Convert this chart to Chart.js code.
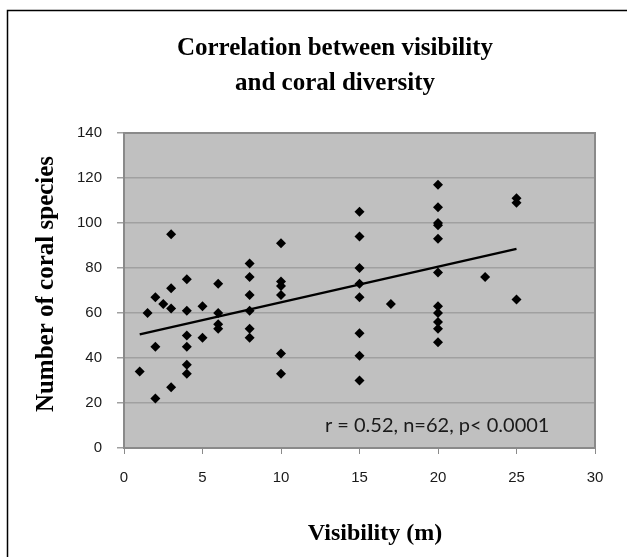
<!DOCTYPE html>
<html>
<head>
<meta charset="utf-8">
<script src="https://cdn.jsdelivr.net/npm/chart.js"></script>
<style>
    body { margin: 0; background: #ffffff; }
    #grafico { display: block; }
</style>
</head>
<body>
<canvas id="grafico" width="627" height="557"></canvas>
<script>
// dados (visibilidade em m x numero de especies)
var visibilidade = [
    1, 1.5,
    2, 2, 2, 2.5,
    3, 3, 3, 3,
    4, 4, 4, 4, 4, 4,
    5, 5,
    6, 6, 6, 6,
    8, 8, 8, 8, 8, 8,
    10, 10, 10, 10, 10, 10,
    15, 15, 15, 15, 15, 15, 15, 15,
    17,
    20, 20, 20, 20, 20, 20, 20, 20, 20, 20, 20,
    23,
    25, 25, 25
];
var especies = [
    34, 60,
    67, 45, 22, 64,
    95, 71, 62, 27,
    75, 61, 50, 45, 37, 33,
    63, 49,
    73, 60, 55, 53,
    82, 76, 68, 61, 53, 49,
    91, 74, 72, 68, 42, 33,
    105, 94, 80, 73, 67, 51, 41, 30,
    64,
    117, 107, 100, 99, 93, 78, 63, 60, 56, 53, 47,
    76,
    111, 109, 66
];

// linha de tendencia (pontas)
var tendenciaX = [1, 25];
var tendenciaY = [50.5, 88.5];

var ticksX = [0, 5, 10, 15, 20, 25, 30];
var ticksY = [0, 20, 40, 60, 80, 100, 120, 140];

var tituloLinhas = ['Correlation between visibility', 'and coral diversity'];
var tituloX = 'Visibility (m)';
var tituloY = 'Number of coral species';
var textoEstatistica = 'r = 0.52, n=62, p< 0.0001';
var posTexto = [27.1, 10];

function montarPontos(xs, ys) {
    var pts = [];
    for (let i = 0; i < xs.length; i++) {
        pts.push({ x: xs[i], y: ys[i] });
    }
    return pts;
}

// fundo cinza da area do grafico + bordas
const fundoPlot = {
    id: 'fundoPlot',
    beforeDraw: function (chart) {
        const ctx = chart.ctx;
        const a = chart.chartArea;
        ctx.save();
        ctx.fillStyle = '#c0c0c0';
        ctx.fillRect(a.left, a.top, a.right - a.left, a.bottom - a.top);
        ctx.restore();
    },
    afterDatasetsDraw: function (chart) {
        const ctx = chart.ctx;
        const a = chart.chartArea;
        ctx.save();
        ctx.strokeStyle = '#8a8a8a';
        ctx.lineWidth = 2;
        ctx.beginPath();
        ctx.moveTo(a.left, a.top);
        ctx.lineTo(a.right, a.top);
        ctx.lineTo(a.right, a.bottom);
        ctx.stroke();

        // texto da estatistica
        const sx = chart.scales.x;
        const sy = chart.scales.y;
        ctx.fillStyle = '#1a1a1a';
        ctx.font = '20px Lato';
        ctx.textAlign = 'right';
        ctx.textBaseline = 'middle';
        ctx.fillText(textoEstatistica, sx.getPixelForValue(posTexto[0]), sy.getPixelForValue(posTexto[1]));
        ctx.restore();
    }
};

// titulos (o original nao fica centrado na area do grafico)
const textosGrafico = {
    id: 'textosGrafico',
    afterDraw: function (chart) {
        const ctx = chart.ctx;
        ctx.save();
        ctx.fillStyle = '#000000';
        ctx.textAlign = 'center';
        ctx.textBaseline = 'alphabetic';

        ctx.font = 'bold 25px "Liberation Serif"';
        ctx.fillText(tituloLinhas[0], 335, 55);
        ctx.fillText(tituloLinhas[1], 335, 90);

        ctx.font = 'bold 24px "Liberation Serif"';
        ctx.fillText(tituloX, 375, 540);

        ctx.translate(53, 284);
        ctx.rotate(-Math.PI / 2);
        ctx.font = 'bold 25px "Liberation Serif"';
        ctx.fillText(tituloY, 0, 0);
        ctx.restore();

        // moldura externa (so topo e esquerda aparecem)
        ctx.save();
        ctx.strokeStyle = '#000000';
        ctx.lineWidth = 1.5;
        ctx.beginPath();
        ctx.moveTo(7.5, chart.height);
        ctx.lineTo(7.5, 10.5);
        ctx.lineTo(chart.width, 10.5);
        ctx.stroke();
        ctx.restore();
    }
};

const ctx = document.getElementById('grafico');

let grafico = new Chart(ctx, {
    type: 'scatter',
    data: {
        datasets: [{
            label: 'Especies',
            data: montarPontos(visibilidade, especies),
            pointStyle: 'rectRot',
            pointRadius: 5,
            backgroundColor: '#000000',
            borderColor: '#000000',
            borderWidth: 0
        }, {
            type: 'line',
            label: 'Tendencia',
            data: montarPontos(tendenciaX, tendenciaY),
            borderColor: '#000000',
            borderWidth: 2.5,
            pointRadius: 0,
            fill: false
        }]
    },
    options: {
        responsive: false,
        animation: false,
        layout: {
            padding: { left: 0, right: 32, top: 133, bottom: 0 }
        },
        plugins: {
            legend: { display: false },
            tooltip: { enabled: false },
            title: { display: false }
        },
        scales: {
            x: {
                type: 'linear',
                min: 0,
                max: 30,
                afterBuildTicks: function (scale) {
                    scale.ticks = ticksX.map(v => ({ value: v }));
                },
                afterFit: function (scale) {
                    scale.height = 109;
                },
                ticks: {
                    color: '#1a1a1a',
                    font: { family: 'Liberation Sans', size: 15 },
                    padding: 15
                },
                grid: {
                    drawOnChartArea: false,
                    drawTicks: true,
                    tickLength: 6,
                    color: '#8a8a8a'
                },
                border: { color: '#8a8a8a', width: 2 }
            },
            y: {
                min: 0,
                max: 140,
                afterBuildTicks: function (scale) {
                    scale.ticks = ticksY.map(v => ({ value: v }));
                },
                afterFit: function (scale) {
                    scale.width = 124;
                },
                ticks: {
                    color: '#1a1a1a',
                    font: { family: 'Liberation Sans', size: 15 },
                    padding: 15
                },
                grid: {
                    color: '#a0a0a0',
                    lineWidth: 1.5,
                    tickLength: 7
                },
                border: { color: '#8a8a8a', width: 2 }
            }
        }
    },
    plugins: [fundoPlot, textosGrafico]
});
</script>
</body>
</html>
